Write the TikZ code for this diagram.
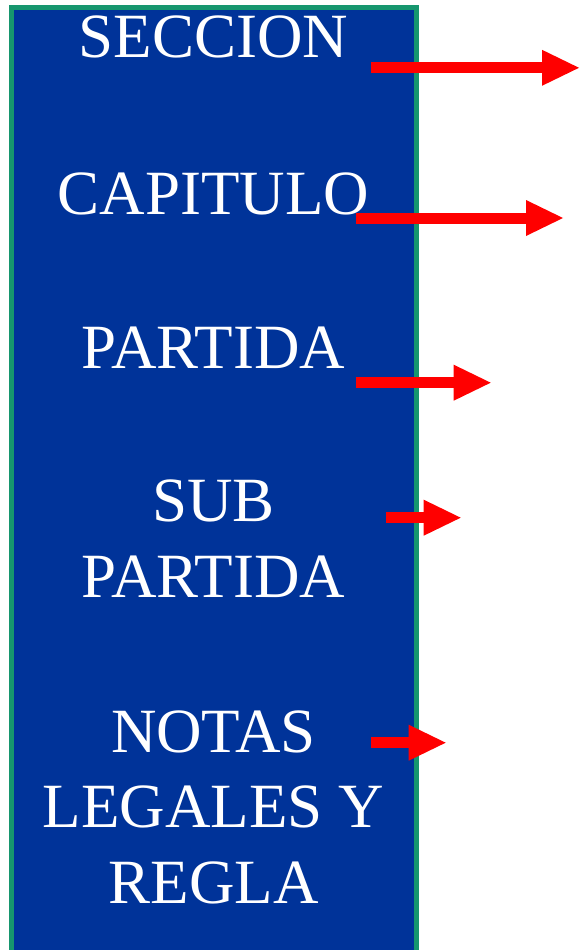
\documentclass[tikz,border=0pt]{standalone}
\usepackage{fontspec}
\setmainfont{Liberation Serif}
\usepackage{tikz}
\usetikzlibrary{arrows.meta}
\definecolor{boxblue}{RGB}{0,51,153}
\definecolor{boxgreen}{RGB}{22,150,110}
\definecolor{arrowred}{RGB}{255,0,0}

\begin{document}
\begin{tikzpicture}[x=1pt,y=-1pt,
  every node/.style={text=white, align=center, anchor=base, inner sep=0pt,
    font=\fontsize{63}{75.5}\selectfont},
  bigarrow/.style={draw=arrowred, line width=11pt,
    -{Triangle[length=37pt,width=36pt,line width=0pt]}}]
\useasboundingbox (0,0) rectangle (581,950);
\filldraw[fill=boxblue, draw=boxgreen, line width=5pt] (11,7.5) rectangle (416,965);

\node (seccion) at (213.5,58) {SECCION};
\node (capitulo) at (213.5,214) {CAPITULO};
\node (partida) at (213.5,368) {PARTIDA};
\node (subpartida) at (213.5,597) {SUB\\PARTIDA};
\node (notas) at (213.5,903) {NOTAS\\LEGALES Y\\REGLA};

\coordinate (s1) at (371,67.8);   \coordinate (e1) at (579,67.8);
\coordinate (s2) at (355.7,218);  \coordinate (e2) at (563,218);
\coordinate (s3) at (355.7,382.7); \coordinate (e3) at (490.7,382.7);
\coordinate (s4) at (385.7,517.7); \coordinate (e4) at (460.7,517.7);
\coordinate (s5) at (371,742.7);  \coordinate (e5) at (445.7,742.7);

\draw[bigarrow] (s1) -- (e1);
\draw[bigarrow] (s2) -- (e2);
\draw[bigarrow] (s3) -- (e3);
\draw[bigarrow] (s4) -- (e4);
\draw[bigarrow] (s5) -- (e5);
\end{tikzpicture}
\end{document}
